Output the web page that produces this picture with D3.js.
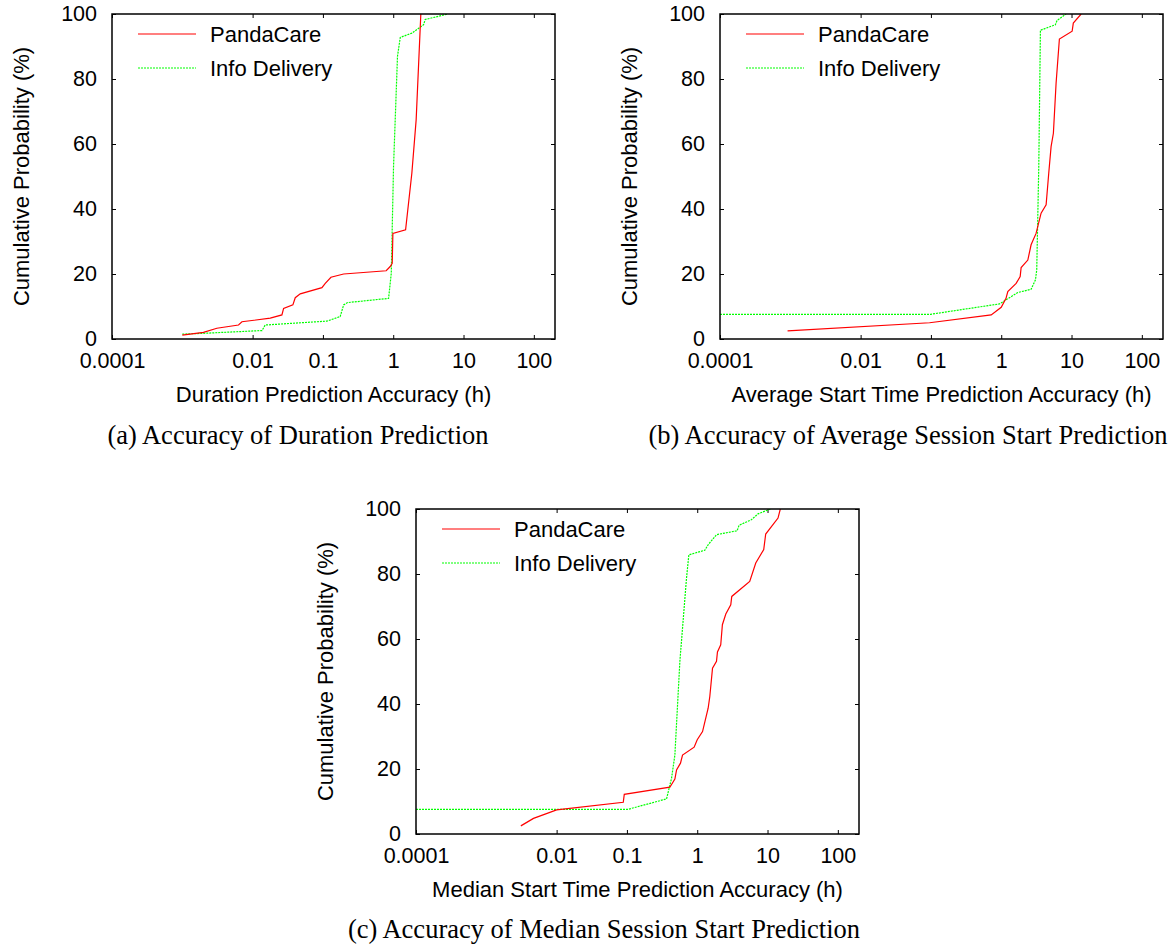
<!DOCTYPE html>
<html>
<head>
<meta charset="utf-8">
<script src="https://cdn.jsdelivr.net/npm/d3@7"></script>
<style>
  body { margin: 0; background: #fff; }
  svg text { font-family: "Liberation Sans", Arial, sans-serif; fill: #000; }
  .caption { font-family: "Liberation Serif", "Times New Roman", serif; }
</style>
</head>
<body>
<div id="chart"></div>
<script>
// data: [accuracy in hours, cumulative probability %]
const durationPandaCare = [
  [0.001, 1.2], [0.002, 2.05], [0.0031, 3.3], [0.0063, 4.3], [0.00705, 5.3],
  [0.0178, 6.4], [0.0261, 7.4], [0.0276, 9.4], [0.0374, 10.5], [0.0404, 12.7],
  [0.0476, 13.9], [0.0968, 15.8], [0.108, 17.1], [0.13, 19.0], [0.197, 20.0],
  [0.794, 21.0], [0.906, 22.3], [0.968, 23.3], [0.989, 32.5], [1.5, 33.6],
  [1.84, 51], [2.12, 67.5], [2.47, 100]
];
const durationInfoDelivery = [
  [0.001, 1.5], [0.00224, 1.8], [0.0136, 2.6], [0.0151, 4.3], [0.114, 5.5],
  [0.176, 6.9], [0.197, 10.5], [0.224, 11.2], [0.859, 12.5], [0.938, 20.2],
  [1.01, 53], [1.15, 87], [1.26, 92.8], [1.84, 94.1], [2.7, 96.7],
  [2.85, 98.3], [5.48, 99.8], [6.0, 100]
];
const avgStartPandaCare = [
  [0.000914, 2.5], [0.0957, 5.0], [0.72, 7.4], [1.0, 9.75], [1.17, 12.5],
  [1.24, 14.6], [1.63, 17.1], [1.86, 19.2], [1.92, 22], [2.39, 24.3],
  [2.66, 29], [3.13, 32.5], [3.69, 38.7], [4.35, 41.3], [4.74, 51],
  [5.12, 59.2], [5.52, 63.3], [6.03, 78.7], [6.72, 92.3], [10.2, 94.7],
  [10.6, 97.2], [13.7, 100]
];
const avgStartInfoDelivery = [
  [0.0001, 7.6], [0.0989, 7.6], [0.944, 10.8], [1.72, 14.3], [2.66, 15.3],
  [3.07, 18.2], [3.2, 21.3], [3.42, 53], [3.61, 95], [5.89, 96.7],
  [6.22, 98], [8.36, 100]
];
const medStartPandaCare = [
  [0.0031, 2.5], [0.00469, 4.8], [0.00686, 6.1], [0.01, 7.4], [0.0887, 9.75],
  [0.0917, 12.2], [0.408, 14.4], [0.481, 16.9], [0.508, 19.7], [0.578, 21.8],
  [0.618, 24.3], [0.904, 26.7], [1.0, 29], [1.19, 31.5], [1.43, 38.7],
  [1.51, 42.3], [1.65, 51], [1.88, 53.1], [1.94, 56], [2.16, 58.2],
  [2.28, 64.4], [2.55, 67.7], [3.0, 70.5], [3.1, 73.1], [5.58, 77.7],
  [6.8, 83.4], [8.83, 87.5], [9.42, 92.3], [14.1, 97.2], [15.2, 100]
];
const medStartInfoDelivery = [
  [0.0001, 7.6], [0.104, 7.6], [0.366, 10.8], [0.431, 17.1], [0.481, 24.3],
  [0.566, 53], [0.704, 78.7], [0.76, 85.9], [1.28, 87.3], [1.43, 89],
  [1.88, 92.1], [3.69, 93.3], [3.94, 95], [5.89, 96.7], [7.33, 98.5],
  [11.0, 100]
];

const xTicks = [0.0001, 0.01, 0.1, 1, 10, 100];
const yTicks = [0, 20, 40, 60, 80, 100];
const seriesNames = ["PandaCare", "Info Delivery"];

const svg = d3.select("#chart").append("svg")
  .attr("width", 1174)
  .attr("height", 945);

const panels = [
  { left: 112, top: 14, xTitle: "Duration Prediction Accuracy (h)",
    series: [durationPandaCare, durationInfoDelivery],
    caption: "(a) Accuracy of Duration Prediction", capX: 298, capY: 444 },
  { left: 720, top: 14, xTitle: "Average Start Time Prediction Accuracy (h)",
    series: [avgStartPandaCare, avgStartInfoDelivery],
    caption: "(b) Accuracy of Average Session Start Prediction", capX: 908, capY: 444 },
  { left: 416, top: 509, xTitle: "Median Start Time Prediction Accuracy (h)",
    series: [medStartPandaCare, medStartInfoDelivery],
    caption: "(c) Accuracy of Median Session Start Prediction", capX: 604, capY: 938 }
];

const plotW = 443;
const plotH = 325;
const tickFont = 21.5;
const labelFont = 22;

panels.forEach((p, i) => {
  const g = svg.append("g").attr("transform", `translate(${p.left},${p.top})`);

  const x = d3.scaleLog().domain([0.0001, 200]).range([0, plotW]);
  const y = d3.scaleLinear().domain([0, 100]).range([plotH, 0]);

  // tick labels
  g.append("g")
    .attr("transform", `translate(0,${plotH})`)
    .call(d3.axisBottom(x).tickValues(xTicks).tickSize(0).tickPadding(14)
      .tickFormat(d => String(d)))
    .call(a => a.select(".domain").remove())
    .selectAll("text").style("font-size", tickFont + "px");

  g.append("g")
    .call(d3.axisLeft(y).tickValues(yTicks).tickSize(0).tickPadding(15))
    .call(a => a.select(".domain").remove())
    .selectAll("text").style("font-size", tickFont + "px");

  // inward ticks on all four sides
  const tickLen = -4;
  g.append("g").attr("transform", `translate(0,${plotH})`)
    .call(d3.axisBottom(x).tickValues(xTicks).tickSize(tickLen).tickFormat(""));
  g.append("g")
    .call(d3.axisTop(x).tickValues(xTicks).tickSize(tickLen).tickFormat(""));
  g.append("g")
    .call(d3.axisLeft(y).tickValues(yTicks).tickSize(tickLen).tickFormat(""));
  g.append("g").attr("transform", `translate(${plotW},0)`)
    .call(d3.axisRight(y).tickValues(yTicks).tickSize(tickLen).tickFormat(""));
  g.selectAll(".domain").remove();
  g.selectAll(".tick line").attr("stroke", "#000").attr("stroke-width", 1);

  // clip
  g.append("clipPath").attr("id", "clip" + i)
    .append("rect").attr("width", plotW).attr("height", plotH);

  const line = d3.line().x(d => x(d[0])).y(d => y(d[1]));

  g.append("path")
    .datum(p.series[1])
    .attr("clip-path", `url(#clip${i})`)
    .attr("d", line)
    .attr("fill", "none")
    .attr("stroke", "#00ff00")
    .attr("stroke-width", 1.2)
    .attr("stroke-dasharray", "2,1");

  g.append("path")
    .datum(p.series[0])
    .attr("clip-path", `url(#clip${i})`)
    .attr("d", line)
    .attr("fill", "none")
    .attr("stroke", "#ff0000")
    .attr("stroke-width", 1.2);

  // border
  g.append("rect")
    .attr("width", plotW).attr("height", plotH)
    .attr("fill", "none").attr("stroke", "#000").attr("stroke-width", 1.5);

  // legend
  seriesNames.forEach((name, k) => {
    const ly = 20 + k * 34;
    g.append("line")
      .attr("x1", 26).attr("x2", 84).attr("y1", ly).attr("y2", ly)
      .attr("stroke", k === 0 ? "#ff0000" : "#00ff00")
      .attr("stroke-width", 1.2)
      .attr("stroke-dasharray", k === 0 ? null : "2,1");
    g.append("text")
      .attr("x", 98).attr("y", ly).attr("dy", "0.36em")
      .style("font-size", labelFont + "px")
      .text(name);
  });

  // axis titles
  g.append("text")
    .attr("x", plotW / 2).attr("y", plotH + 63)
    .attr("text-anchor", "middle")
    .style("font-size", labelFont + "px")
    .text(p.xTitle);

  g.append("text")
    .attr("transform", `translate(-83,${plotH / 2}) rotate(-90)`)
    .attr("text-anchor", "middle")
    .style("font-size", labelFont + "px")
    .text("Cumulative Probability (%)");

  // caption
  svg.append("text")
    .attr("class", "caption")
    .attr("x", p.capX).attr("y", p.capY)
    .attr("text-anchor", "middle")
    .style("font-size", "26.5px")
    .text(p.caption);
});
</script>
</body>
</html>
